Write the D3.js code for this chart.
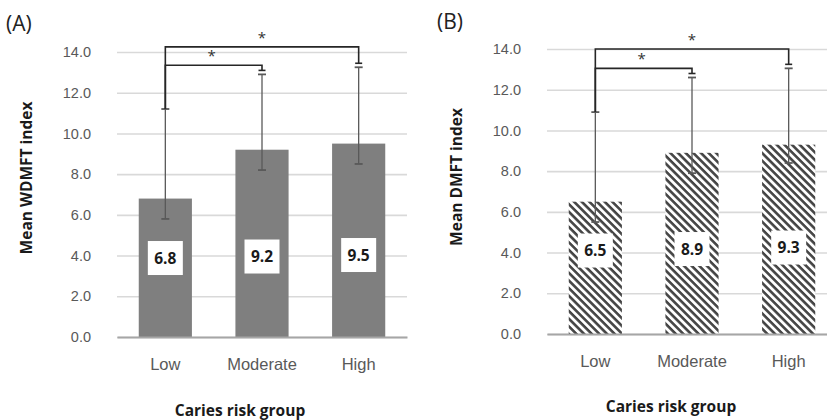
<!DOCTYPE html>
<html>
<head>
<meta charset="utf-8">
<script src="https://cdn.jsdelivr.net/npm/d3@7"></script>
<style>
  body { margin: 0; background: #fff; }
  svg { display: block; font-family: "Open Sans", "Noto Sans", sans-serif; }
</style>
</head>
<body>
<div id="chart"></div>
<script>
// data
const groups = ["Low", "Moderate", "High"];
const yTicks = [0, 2, 4, 6, 8, 10, 12, 14];

const wdmftMean = [6.8, 9.2, 9.5];
const wdmftUpper = [11.2, 12.9, 13.25];
const wdmftLower = [5.8, 8.2, 8.5];

const dmftMean = [6.5, 8.9, 9.3];
const dmftUpper = [10.9, 12.6, 13.05];
const dmftLower = [5.5, 7.9, 8.4];

// significant pairs (index of groups) and the bracket level
const sigPairs = [[0, 1], [0, 2]];
const wdmftSigLevel = [13.35, 14.25];
const dmftSigLevel = [13.05, 14.0];

const W = 827, H = 420;
const svg = d3.select("#chart").append("svg")
    .attr("width", W)
    .attr("height", H);

// hatch pattern for panel B (stripes running top-left to bottom-right)
const defs = svg.append("defs");
const pat = defs.append("pattern")
    .attr("id", "hatch")
    .attr("patternUnits", "userSpaceOnUse")
    .attr("width", 5.4)
    .attr("height", 5.4)
    .attr("patternTransform", "rotate(45)");
pat.append("rect").attr("width", 5.4).attr("height", 5.4).attr("fill", "#fff");
pat.append("rect").attr("x", 0).attr("y", 0).attr("width", 5.4).attr("height", 2.6).attr("fill", "#444");

function drawPanel(cfg) {
    const y = d3.scaleLinear().domain([0, 14]).range([cfg.y0, cfg.y14]);
    const x = d3.scaleBand().domain(groups).range([cfg.xL, cfg.xR]).paddingInner(0.45).paddingOuter(0.225);
    const g = svg.append("g");

    // panel letter
    g.append("text")
        .attr("x", cfg.letterX).attr("y", cfg.letterY)
        .attr("font-size", 21).attr("fill", "#222")
        .text(cfg.letter);

    // grid + y ticks
    const yAxis = d3.axisLeft(y)
        .tickValues(yTicks)
        .tickFormat(d3.format(".1f"))
        .tickSize(-(cfg.xR - cfg.xL))
        .tickPadding(26);
    const ga = g.append("g")
        .attr("transform", "translate(" + cfg.xL + ",0)")
        .call(yAxis);
    ga.select(".domain").remove();
    ga.selectAll(".tick line").attr("stroke", "#d9d9d9").attr("stroke-width", 1.6);
    ga.selectAll(".tick text").attr("fill", "#595959").attr("font-size", 14.5);

    // bars
    g.selectAll("rect.bar")
        .data(cfg.mean)
        .join("rect")
        .attr("class", "bar")
        .attr("x", (d, i) => x(groups[i]))
        .attr("width", x.bandwidth())
        .attr("y", d => y(d))
        .attr("height", d => y(0) - y(d))
        .attr("fill", cfg.fill);

    // x axis baseline + category labels
    const xAxis = d3.axisBottom(x).tickSize(0).tickPadding(21);
    const gx = g.append("g")
        .attr("transform", "translate(0," + y(0) + ")")
        .call(xAxis);
    gx.select(".domain").attr("stroke", "#a6a6a6").attr("stroke-width", 2);
    gx.selectAll(".tick text").attr("fill", "#595959").attr("font-size", 16.5);

    // error bars
    const cx = i => x(groups[i]) + x.bandwidth() / 2;
    const eb = g.append("g").attr("stroke", "#595959").attr("stroke-width", 1.3);
    cfg.mean.forEach((m, i) => {
        eb.append("line").attr("x1", cx(i)).attr("x2", cx(i))
            .attr("y1", y(cfg.lower[i])).attr("y2", y(cfg.upper[i]));
        [cfg.lower[i], cfg.upper[i]].forEach(v => {
            eb.append("line").attr("x1", cx(i) - 4).attr("x2", cx(i) + 4)
                .attr("y1", y(v)).attr("y2", y(v)).attr("stroke-width", 1.8);
        });
    });

    // value labels in white boxes
    cfg.mean.forEach((m, i) => {
        const ly = y(cfg.labelAt) - i * 1.5;
        g.append("rect")
            .attr("x", cx(i) - 17.5).attr("y", ly - 17)
            .attr("width", 35).attr("height", 34)
            .attr("fill", "#fff");
        g.append("text")
            .attr("x", cx(i)).attr("y", ly + 5.5)
            .attr("text-anchor", "middle")
            .attr("font-size", 15.5).attr("font-weight", "bold").attr("fill", "#1a1a1a")
            .text(d3.format(".1f")(m));
    });

    // significance brackets
    const br = g.append("g").attr("stroke", "#262626").attr("stroke-width", 1.6).attr("fill", "none");
    sigPairs.forEach((p, k) => {
        const lv = cfg.sig[k];
        const a = cx(p[0]), b = cx(p[1]);
        br.append("path")
            .attr("d", "M" + a + "," + y(cfg.upper[p[0]]) + "V" + y(lv) + "H" + b + "V" + (y(cfg.upper[p[1]]) - 4));
        br.append("line").attr("x1", b - 3.5).attr("x2", b + 3.5)
            .attr("y1", y(cfg.upper[p[1]]) - 4).attr("y2", y(cfg.upper[p[1]]) - 4);
        g.append("text")
            .attr("x", (k === 0) ? (a + b) / 2 - 2 : (a + b) / 2)
            .attr("y", y(lv) - 4)
            .attr("text-anchor", "middle")
            .attr("font-size", 15).attr("fill", "#333")
            .text("*");
    });

    // axis titles
    g.append("text")
        .attr("transform", "translate(" + cfg.yTitleX + "," + cfg.yTitleY + ") rotate(-90)")
        .attr("text-anchor", "middle")
        .attr("font-size", 15.5).attr("font-weight", "bold").attr("fill", "#1a1a1a")
        .text(cfg.yTitle);
    g.append("text")
        .attr("x", cfg.xTitleX).attr("y", cfg.xTitleY)
        .attr("text-anchor", "middle")
        .attr("font-size", 15.5).attr("font-weight", "bold").attr("fill", "#1a1a1a")
        .text("Caries risk group");
}

drawPanel({
    letter: "(A)", letterX: 6, letterY: 31,
    xL: 117, xR: 407, y0: 337, y14: 52,
    mean: wdmftMean, upper: wdmftUpper, lower: wdmftLower, sig: wdmftSigLevel,
    fill: "#7f7f7f", labelAt: 3.88,
    yTitle: "Mean WDMFT index", yTitleX: 32, yTitleY: 178,
    xTitleX: 240, xTitleY: 416
});

drawPanel({
    letter: "(B)", letterX: 437, letterY: 29,
    xL: 547, xR: 837, y0: 334, y14: 49,
    mean: dmftMean, upper: dmftUpper, lower: dmftLower, sig: dmftSigLevel,
    fill: "url(#hatch)", labelAt: 4.1,
    yTitle: "Mean DMFT index", yTitleX: 462, yTitleY: 177,
    xTitleX: 671, xTitleY: 412
});
</script>
</body>
</html>
